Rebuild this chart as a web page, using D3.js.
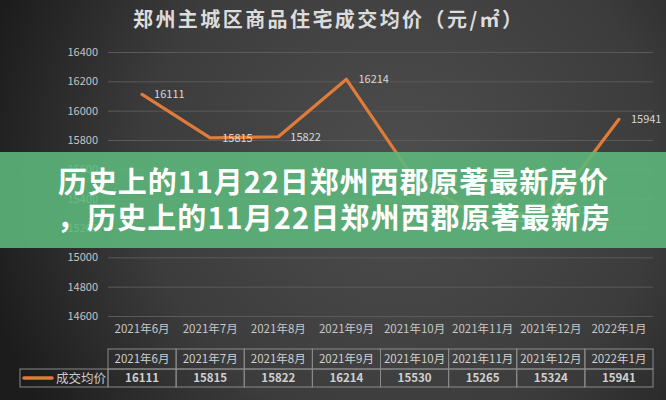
<!DOCTYPE html>
<html><head><meta charset="utf-8">
<script src="https://cdn.jsdelivr.net/npm/d3@7"></script>
<style>html,body{margin:0;padding:0;background:#333;}svg{display:block;}</style>
</head><body>
<script>
const categories = ["2021年6月","2021年7月","2021年8月","2021年9月","2021年10月","2021年11月","2021年12月","2022年1月"];
const prices = [16111,15815,15822,16214,15530,15265,15324,15941];
const yTicks = [14600,14800,15000,15200,15400,15600,15800,16000,16200,16400];
const seriesName = "成交均价";
const titleText = "郑州主城区商品住宅成交均价（元/㎡）";
const bannerLines = ["历史上的11月22日郑州西郡原著最新房价", "，历史上的11月22日郑州西郡原著最新房"];

const W = 666, H = 400;
const FONT = "'Noto Sans CJK SC','Noto Sans',sans-serif";
const svg = d3.select("body").append("svg").attr("width", W).attr("height", H);
const defs = svg.append("defs");
const rg = defs.append("radialGradient").attr("id","bg").attr("gradientUnits","userSpaceOnUse")
  .attr("cx",400).attr("cy",170).attr("r",430);
rg.append("stop").attr("offset","0").attr("stop-color","#4e4e4e");
rg.append("stop").attr("offset","0.6").attr("stop-color","#3c3c3c");
rg.append("stop").attr("offset","1").attr("stop-color","#1c1c1c");
svg.append("rect").attr("width",W).attr("height",H).attr("fill","url(#bg)");

// title
svg.append("text").attr("x",133).attr("y",27)
  .attr("font-family",FONT).attr("font-size",20).attr("font-weight","bold")
  .attr("fill","#dcdcdc").attr("textLength",389).attr("lengthAdjust","spacing").text(titleText);

const x = d3.scaleBand().domain(categories).range([108,653]);
const y = d3.scaleLinear().domain([14600,16400]).range([316,52]);

// y grid + labels
const ya = svg.append("g").attr("transform","translate(108,0)")
  .call(d3.axisLeft(y).tickValues(yTicks).tickSize(-545).tickPadding(10).tickFormat(d3.format("d")));
ya.select(".domain").remove();
ya.selectAll(".tick line").attr("stroke","#5a5a5a").attr("stroke-width",1);
ya.selectAll(".tick text").attr("fill","#c4c4c4").attr("font-size",11).attr("font-family",FONT);

// x labels
const xa = svg.append("g").attr("transform","translate(0,316)")
  .call(d3.axisBottom(x).tickSize(0).tickPadding(9));
xa.select(".domain").remove();
xa.selectAll(".tick text").attr("fill","#c8c8c8").attr("font-size",11.5).attr("font-family",FONT);

// line
const cx = d => x(d) + x.bandwidth()/2;
const line = d3.line().x((d,i)=>cx(categories[i])).y(d=>y(d));
svg.append("path").datum(prices).attr("d",line).attr("fill","none")
  .attr("stroke","#e07b39").attr("stroke-width",3.2).attr("stroke-linejoin","round").attr("stroke-linecap","round");

svg.append("g").selectAll("text").data(prices).join("text")
  .attr("x",(d,i)=>cx(categories[i])+12).attr("y",d=>y(d)).attr("dy","0.35em")
  .attr("fill","#d8d8d8").attr("font-size",11).attr("font-family",FONT).text(d=>d);

// table
const tTop = 349, tMid = 369, tBot = 387, legL = 20;
const tg = svg.append("g");
const bw = x.bandwidth();
tg.selectAll("rect.h").data(categories).join("rect")
  .attr("x",d=>x(d)).attr("y",tTop).attr("width",bw).attr("height",tMid-tTop)
  .attr("fill","none").attr("stroke","#8a8a8a").attr("stroke-width",1);
tg.selectAll("rect.v").data(categories).join("rect")
  .attr("x",d=>x(d)).attr("y",tMid).attr("width",bw).attr("height",tBot-tMid)
  .attr("fill","none").attr("stroke","#8a8a8a").attr("stroke-width",1);
tg.append("rect").attr("x",legL).attr("y",tMid).attr("width",x(categories[0])-legL).attr("height",tBot-tMid)
  .attr("fill","none").attr("stroke","#8a8a8a").attr("stroke-width",1);
tg.selectAll("text.h").data(categories).join("text")
  .attr("x",d=>cx(d)).attr("y",(tTop+tMid)/2).attr("dy","0.36em").attr("text-anchor","middle")
  .attr("fill","#d0d0d0").attr("font-size",11.5).attr("font-family",FONT).text(d=>d);
tg.selectAll("text.v").data(prices).join("text")
  .attr("x",(d,i)=>cx(categories[i])).attr("y",(tMid+tBot)/2).attr("dy","0.36em").attr("text-anchor","middle")
  .attr("fill","#d0d0d0").attr("font-size",11.5).attr("font-weight","bold").attr("font-family",FONT).text(d=>d);
tg.append("line").attr("x1",24).attr("x2",52).attr("y1",(tMid+tBot)/2).attr("y2",(tMid+tBot)/2)
  .attr("stroke","#e07b39").attr("stroke-width",3.5).attr("stroke-linecap","round");
tg.append("text").attr("x",56).attr("y",(tMid+tBot)/2).attr("dy","0.36em")
  .attr("fill","#cccccc").attr("font-size",12.5).attr("font-family",FONT).text(seriesName);

// banner overlay
svg.append("rect").attr("x",0).attr("y",152).attr("width",W).attr("height",96)
  .attr("fill","rgb(93,186,124)").attr("opacity",0.87);
svg.append("g").selectAll("text").data(bannerLines).join("text")
  .attr("x",(d,i)=>i===0?58:57).attr("y",(d,i)=>193+i*36)
  .attr("textLength",(d,i)=>i===0?550:553).attr("lengthAdjust","spacing")
  .attr("fill","#ffffff").attr("font-size",29).attr("font-weight","bold").attr("font-family",FONT)
  .text(d=>d);
</script>
</body></html>
